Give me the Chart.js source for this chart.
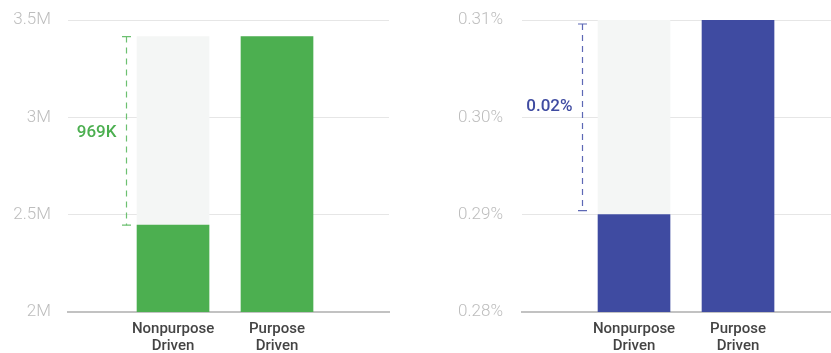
<!DOCTYPE html>
<html>
<head>
<meta charset="utf-8">
<script src="https://cdn.jsdelivr.net/npm/chart.js@4.4.0/dist/chart.umd.min.js"></script>
<style>
  body { margin: 0; background: #fff; }
  #wrap { position: relative; width: 831px; height: 353px; }
  canvas { position: absolute; top: 0; }
  #reach { left: 0; }
  #rate { left: 415px; }
</style>
</head>
<body>
<div id="wrap">
  <canvas id="reach" width="415" height="353"></canvas>
  <canvas id="rate" width="416" height="353"></canvas>
</div>
<script>
// categories shared by both panels
const categories = ['Nonpurpose Driven', 'Purpose Driven'];

// left panel: audience reach
const reachValues = [2446000, 3415000];
const reachTicks = [2000000, 2500000, 3000000, 3500000];

// right panel: conversion rate (%)
const rateValues = [0.29, 0.31];
const rateTicks = [0.28, 0.29, 0.30, 0.31];

const GREEN = '#4caf50';
const BLUE = '#3f4ba1';
const GHOST = '#f4f6f5';

// dashed bracket between the two bar tops with the gap written beside it
const gapBracket = {
  id: 'gapBracket',
  afterDatasetsDraw(chart, args, opts) {
    const meta = chart.getDatasetMeta(0);
    const lo = meta.data[0], hi = meta.data[1];
    if (!lo || !hi) return;
    const ctx = chart.ctx;
    const x = Math.round(lo.x - lo.width / 2 - opts.gap) + 0.5;
    const top = hi.y + opts.inset, bottom = lo.y - opts.inset;
    ctx.save();
    ctx.strokeStyle = opts.lineColor;
    ctx.lineWidth = 1.2;
    ctx.setLineDash([6, 5]);
    ctx.beginPath();
    ctx.moveTo(x, top);
    ctx.lineTo(x, bottom);
    ctx.stroke();
    ctx.setLineDash([]);
    ctx.beginPath();
    ctx.moveTo(x - 4.5, top); ctx.lineTo(x + 4.5, top);
    ctx.moveTo(x - 4.5, bottom); ctx.lineTo(x + 4.5, bottom);
    ctx.stroke();
    ctx.fillStyle = opts.textColor;
    ctx.font = '500 17px Roboto';
    ctx.textAlign = 'right';
    ctx.textBaseline = 'middle';
    ctx.fillText(opts.text, x - 10, (top + bottom) / 2 + opts.labelShift);
    ctx.restore();
  }
};

function makePanel(id, values, ticks, color, fmt, xmin, xmax, yAxisWidth, padRight, tickGap, bracket) {
  // pale column filling the gap up to the taller bar
  const top = Math.max(...values);
  const ghost = values.map(v => top - v);
  new Chart(document.getElementById(id), {
    type: 'bar',
    data: {
      datasets: [
        { data: values.map((v, i) => ({ x: i, y: v })), backgroundColor: color, barThickness: 72 },
        { data: ghost.map((v, i) => ({ x: i, y: v })), backgroundColor: GHOST, barThickness: 72 }
      ]
    },
    options: {
      responsive: false,
      animation: false,
      layout: { padding: { top: 20, right: padRight, left: 0, bottom: 0 } },
      plugins: {
        legend: { display: false },
        tooltip: { enabled: false },
        gapBracket: bracket
      },
      scales: {
        x: {
          type: 'linear',
          offset: false,
          stacked: true,
          min: xmin,
          max: xmax,
          grid: { display: false },
          border: { display: true, color: '#c2c2c2', width: 2 },
          afterBuildTicks: s => { s.ticks = categories.map((c, i) => ({ value: i })); },
          afterFit: s => { s.height = 41; },
          ticks: {
            autoSkip: false,
            maxRotation: 0,
            padding: 1,
            color: '#444',
            font: { family: 'Roboto', size: 15, weight: '500', lineHeight: 1.13 },
            callback: v => categories[v] ? categories[v].split(' ') : ''
          }
        },
        y: {
          stacked: true,
          min: ticks[0],
          max: ticks[ticks.length - 1],
          afterBuildTicks: s => { s.ticks = ticks.map(v => ({ value: v })); },
          afterFit: s => { s.width = yAxisWidth; },
          // invisible tick marks keep the labels clear of the plot
          grid: { color: '#e6e6e6', drawTicks: true, tickLength: tickGap, tickColor: 'rgba(0,0,0,0)' },
          border: { display: false },
          ticks: {
            padding: 0,
            color: '#bdbdbd',
            font: { family: 'Roboto', size: 17, weight: '300' },
            callback: fmt
          }
        }
      }
    },
    plugins: [gapBracket]
  });
}

const reachGap = reachValues[1] - reachValues[0];
makePanel('reach', reachValues, reachTicks, GREEN,
  v => (v / 1e6) + 'M',
  -1.01, 2.077, 68, 26, 17,
  { gap: 11, inset: 0, labelShift: 2, lineColor: '#6cc070', textColor: GREEN,
    text: Math.round(reachGap / 1000) + 'K' });

const rateGap = rateValues[1] - rateValues[0];
makePanel('rate', rateValues, rateTicks, BLUE,
  v => v.toFixed(2) + '%',
  -1.077, 1.894, 107, 0, 19,
  { gap: 16, inset: 4, labelShift: -11, lineColor: '#5d68b5', textColor: BLUE,
    text: rateGap.toFixed(2) + '%' });
</script>
</body>
</html>
